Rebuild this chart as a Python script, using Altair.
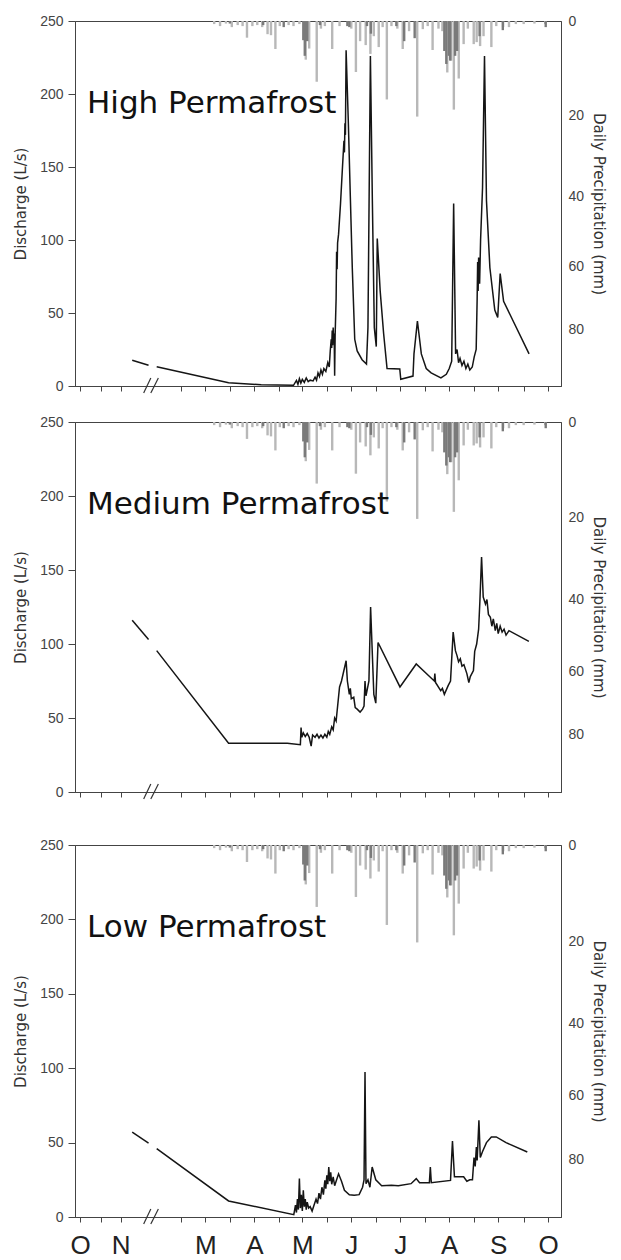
import altair as alt
import pandas as pd

# ---------------- x axis: "axis months" (0 = 1 Oct, axis broken between Nov and Mar)
month_ticks = [0, 0.42, 0.83, 2.06, 2.56, 3.06, 3.56, 4.06, 4.54, 5.04, 5.54,
               6.04, 6.54, 7.04, 7.54, 8.04, 8.54, 9.06, 9.56]
month_label_pos = [0, 0.83, 2.56, 3.56, 4.54, 5.54, 6.54, 7.54, 8.54, 9.56]
month_labels = ["O", "N", "M", "A", "M", "J", "J", "A", "S", "O"]
x_domain = [0, 9.72]

# axis-break marker ("//")
break_x0 = [1.30, 1.446]
break_x1 = [1.446, 1.60]

# ---------------- daily precipitation (mm), same gauge record in every panel
rain_light_x = [2.74, 2.86, 2.98, 3.10, 3.22, 3.32, 3.41, 3.52, 3.62, 3.72, 3.83, 3.90,
                3.99, 4.08, 4.26, 4.36, 4.48, 4.61, 4.68, 4.834, 4.92, 5.00, 5.15, 5.30,
                5.54, 5.634, 5.72, 5.834, 5.93, 6.00, 6.10, 6.18, 6.266, 6.36, 6.48, 6.59,
                6.72, 6.886, 7.00, 7.10, 7.20, 7.32, 7.40, 7.50, 7.58, 7.634, 7.734, 7.834,
                7.92, 8.04, 8.10, 8.17, 8.24, 8.40, 8.50, 8.64, 8.76, 8.90, 9.06, 9.28, 9.50]
rain_light_mm = [0.6, 1.0, 0.5, 1.2, 0.8, 1.0, 3.3, 1.0, 0.8, 1.2, 2.6, 2.8,
                 5.6, 1.0, 0.8, 1.0, 0.6, 7.8, 5.5, 12.5, 1.5, 1.0, 5.6, 1.0,
                 1.5, 10.4, 4.0, 4.8, 6.6, 3.0, 5.2, 1.2, 16.4, 1.0, 1.5, 5.6,
                 2.0, 20.3, 1.6, 1.0, 5.8, 1.5, 2.0, 10.5, 8.0, 18.7, 11.8, 4.6,
                 1.5, 4.6, 4.2, 5.0, 3.0, 5.2, 1.0, 1.2, 1.2, 0.6, 0.6, 0.5, 0.6]
rain_dark_x = [3.06, 3.74, 4.16, 4.56, 4.59, 4.64, 4.90, 5.46, 5.50, 5.86, 5.94, 6.46,
               6.62, 6.834, 7.44, 7.48, 7.534, 7.56, 7.66, 7.70, 8.16, 8.634, 9.51]
rain_dark_mm = [0.5, 0.8, 1.2, 3.8, 7.0, 4.0, 0.8, 1.0, 1.2, 1.0, 2.5, 1.0,
                4.0, 3.4, 6.0, 8.7, 7.0, 8.0, 7.0, 6.0, 3.0, 1.8, 1.2]

# ---------------- discharge (L/s)
high_pre_x = [1.066, 1.40]
high_pre_q = [17.6, 14.2]
high_x = [1.566, 3.034, 3.70, 4.36, 4.42, 4.45, 4.48, 4.51, 4.54, 4.58, 4.62, 4.66, 4.70,
          4.76, 4.80, 4.83, 4.86, 4.89, 4.92, 4.95, 4.98, 5.02, 5.06, 5.09, 5.11, 5.13,
          5.14, 5.15, 5.16, 5.17, 5.18, 5.19, 5.20, 5.21, 5.23, 5.24, 5.25, 5.26, 5.28,
          5.32, 5.36, 5.39, 5.40, 5.41, 5.42, 5.434, 5.48, 5.52, 5.56, 5.61, 5.66, 5.76,
          5.85, 5.88, 5.93, 5.97, 6.01, 6.05, 6.07, 6.13, 6.20, 6.27, 6.53, 6.55, 6.80,
          6.82, 6.89, 6.97, 7.07, 7.17, 7.37, 7.48, 7.54, 7.59, 7.63, 7.67, 7.70, 7.73,
          7.76, 7.80, 7.84, 7.88, 7.92, 7.96, 8.01, 8.05, 8.09, 8.11, 8.12, 8.13, 8.14,
          8.16, 8.18, 8.22, 8.26, 8.30, 8.37, 8.47, 8.53, 8.58, 8.65, 9.17]
high_q = [13.2, 2.3, 0.8, 0.5, 3.8, 1.2, 5.0, 2.0, 4.5, 2.5, 5.5, 3.0, 4.0,
          3.5, 6.0, 4.0, 9.0, 6.5, 11.0, 8.0, 12.0, 10.0, 16.0, 13.0, 24.0, 32.0,
          26.0, 38.0, 28.0, 40.0, 30.0, 36.0, 7.0, 35.0, 60.0, 92.0, 80.0, 98.0, 104.0,
          125.0, 150.0, 168.0, 160.0, 180.0, 172.0, 230.0, 180.0, 130.0, 81.0, 32.0, 24.0, 18.0,
          15.0, 40.0, 226.0, 127.0, 40.0, 27.0, 101.0, 65.0, 36.0, 12.0, 11.6, 4.6, 6.8,
          22.0, 44.5, 22.0, 12.0, 9.0, 5.5, 8.0, 12.0, 17.0, 125.0, 22.0, 25.0, 16.0,
          19.0, 14.0, 17.0, 12.0, 15.0, 11.0, 13.0, 20.0, 25.0, 60.0, 85.0, 65.0, 88.0,
          70.0, 100.0, 136.0, 226.0, 127.0, 81.0, 52.0, 47.0, 77.0, 58.0, 22.0]

med_pre_x = [1.066, 1.40]
med_pre_q = [116.0, 103.0]
med_x = [1.566, 3.034, 4.234, 4.50, 4.514, 4.53, 4.56, 4.60, 4.64, 4.68, 4.72, 4.75, 4.80,
         4.84, 4.88, 4.92, 4.96, 5.00, 5.04, 5.07, 5.10, 5.14, 5.17, 5.20, 5.23, 5.30,
         5.34, 5.434, 5.46, 5.50, 5.52, 5.54, 5.59, 5.62, 5.66, 5.72, 5.77, 5.80, 5.82,
         5.84, 5.90, 5.934, 6.00, 6.04, 6.086, 6.534, 6.866, 7.234, 7.246, 7.26, 7.366,
         7.40, 7.44, 7.48, 7.52, 7.566, 7.62, 7.666, 7.70, 7.73, 7.766, 7.80, 7.84, 7.90,
         7.94, 7.97, 8.034, 8.06, 8.10, 8.14, 8.166, 8.20, 8.234, 8.28, 8.31, 8.34, 8.38,
         8.41, 8.44, 8.48, 8.51, 8.54, 8.58, 8.62, 8.66, 8.70, 8.76, 9.166]
med_q = [95.5, 33.0, 33.0, 32.0, 43.5, 37.0, 40.0, 37.5, 39.5, 37.0, 31.0, 38.5, 37.0,
         39.0, 36.5, 38.5, 36.5, 39.0, 37.0, 41.0, 39.0, 44.0, 42.0, 50.0, 48.0, 71.0,
         75.0, 88.7, 75.0, 66.0, 70.0, 63.0, 64.0, 57.0, 56.0, 54.0, 56.0, 58.0, 75.0,
         65.0, 75.0, 125.0, 66.0, 60.0, 101.0, 71.0, 86.5, 75.0, 80.0, 74.0, 68.5,
         70.0, 66.0, 69.0, 72.0, 75.0, 108.0, 95.5, 92.0, 88.0, 90.0, 85.0, 86.0, 80.0,
         74.0, 78.0, 82.0, 95.0, 100.0, 110.0, 129.0, 158.8, 131.7, 127.0, 130.0, 120.0, 118.0,
         112.0, 117.0, 109.0, 114.0, 107.0, 112.0, 108.0, 110.0, 106.0, 109.0, 101.8]

low_pre_x = [1.066, 1.40]
low_pre_q = [57.0, 49.7]
low_x = [1.566, 3.034, 4.366, 4.40, 4.42, 4.44, 4.46, 4.48, 4.50, 4.52, 4.54, 4.56, 4.58,
         4.60, 4.62, 4.64, 4.67, 4.70, 4.74, 4.78, 4.82, 4.85, 4.88, 4.91, 4.94, 4.97,
         5.00, 5.02, 5.04, 5.06, 5.08, 5.10, 5.12, 5.14, 5.17, 5.20, 5.24, 5.28, 5.34,
         5.40, 5.50, 5.60, 5.70, 5.77, 5.80, 5.82, 5.84, 5.88, 5.92, 5.966, 6.04, 6.16,
         6.36, 6.50, 6.76, 6.866, 6.934, 7.134, 7.154, 7.174, 7.566, 7.606, 7.646, 7.834,
         7.90, 7.96, 8.014, 8.046, 8.07, 8.094, 8.11, 8.146, 8.174, 8.22, 8.30, 8.40,
         8.50, 8.70, 9.134]
low_q = [46.0, 10.8, 1.6, 8.0, 3.0, 12.0, 5.0, 25.8, 6.0, 15.0, 4.0, 18.0, 7.0,
         12.0, 5.0, 10.0, 6.0, 7.0, 4.0, 8.0, 12.0, 9.0, 16.0, 12.0, 20.0, 15.0,
         24.6, 19.0, 28.0, 22.0, 33.6, 24.0, 30.0, 22.0, 27.0, 21.0, 25.0, 29.0, 24.0,
         18.0, 15.0, 14.6, 15.0, 20.0, 25.0, 97.4, 22.4, 25.0, 20.0, 33.6, 25.0, 21.0,
         21.3, 21.0, 22.4, 25.8, 23.0, 23.0, 33.6, 23.0, 24.6, 51.0, 27.0, 27.0,
         24.0, 25.0, 25.0, 40.0, 34.0, 47.0, 38.0, 65.0, 40.0, 44.0, 50.0, 53.8,
         53.8, 50.0, 43.7]

# ---------------- build tables
rain = pd.DataFrame({
    "x": rain_light_x + rain_dark_x,
    "mm": rain_light_mm + rain_dark_mm,
    "kind": ["light"] * len(rain_light_x) + ["dark"] * len(rain_dark_x),
})
breaks = pd.DataFrame({"x0": break_x0, "x1": break_x1})

label_expr = ""
for p, l in zip(month_label_pos, month_labels):
    label_expr += f"datum.value == {p} ? '{l}' : "
label_expr += "''"

FONT = "Liberation Sans"
TFONT = "DejaVu Sans"


def panel(title, pre_x, pre_q, xs, qs, height, show_labels):
    df = pd.DataFrame({
        "x": pre_x + xs,
        "q": pre_q + qs,
        "seg": ["a"] * len(pre_x) + ["b"] * len(xs),
    })
    xscale = alt.Scale(domain=x_domain, nice=False, zero=False)
    xaxis = alt.Axis(values=month_ticks, labelExpr=label_expr, labels=show_labels,
                     title=None, grid=False, tickSize=5, labelFlush=False,
                     labelFontSize=26, labelColor="#222", labelPadding=10,
                     labelFont=FONT, domainColor="#444", tickColor="#444")

    bars = alt.Chart(rain).mark_bar(width=2.4).encode(
        x=alt.X("x:Q", scale=xscale, axis=xaxis),
        y=alt.Y("mm:Q",
                scale=alt.Scale(type="symlog", constant=110, domain=[0, 100],
                                reverse=True, nice=False),
                axis=alt.Axis(orient="right", values=[0, 20, 40, 60, 80], ticks=False,
                              labelPadding=7, title="Daily Precipitation (mm)",
                              titlePadding=7, grid=False, domainColor="#444")),
        y2=alt.datum(0),
        color=alt.Color("kind:N",
                        scale=alt.Scale(domain=["light", "dark"], range=["#b8b8b8", "#7a7a7a"]),
                        legend=None),
    )

    line = alt.Chart(df).mark_line(color="#151515", strokeWidth=1.5).encode(
        x=alt.X("x:Q", scale=xscale, axis=xaxis),
        y=alt.Y("q:Q", scale=alt.Scale(domain=[0, 250], nice=False),
                axis=alt.Axis(orient="left", values=[0, 50, 100, 150, 200, 250],
                              tickSize=7, labelPadding=5, title="Discharge (L/s)",
                              titlePadding=11, grid=False, domainColor="#444")),
        detail="seg:N",
    )

    brk = alt.Chart(breaks).mark_rule(color="#333", strokeWidth=1.2).encode(
        x=alt.X("x0:Q", scale=xscale, axis=xaxis),
        x2="x1:Q",
        y=alt.value(height + 7),
        y2=alt.value(height - 8),
    )

    txt = alt.Chart(pd.DataFrame({"t": [title]})).mark_text(
        align="left", baseline="alphabetic", fontSize=31, font=TFONT, color="#111"
    ).encode(text="t:N", x=alt.value(12), y=alt.value(92))

    return alt.layer(bars, line, brk, txt).resolve_scale(y="independent").properties(
        width=486, height=height)


p1 = panel("High Permafrost", high_pre_x, high_pre_q, high_x, high_q, 365, False)
p2 = panel("Medium Permafrost", med_pre_x, med_pre_q, med_x, med_q, 370, False)
p3 = panel("Low Permafrost", low_pre_x, low_pre_q, low_x, low_q, 372, True)

chart = alt.vconcat(p1, alt.vconcat(p2, p3, spacing=36), spacing=19).properties(
    padding={"left": 5, "top": 5, "right": 5, "bottom": 0}
).configure_view(stroke="#444", strokeWidth=1).configure_axis(
    labelFont=FONT, labelFontSize=14, labelColor="#444", tickColor="#444",
    titleFont=TFONT, titleFontSize=15, titleFontWeight="normal", titleColor="#333",
)

chart.save("out.html", embed_options={"renderer": "svg", "actions": False})
